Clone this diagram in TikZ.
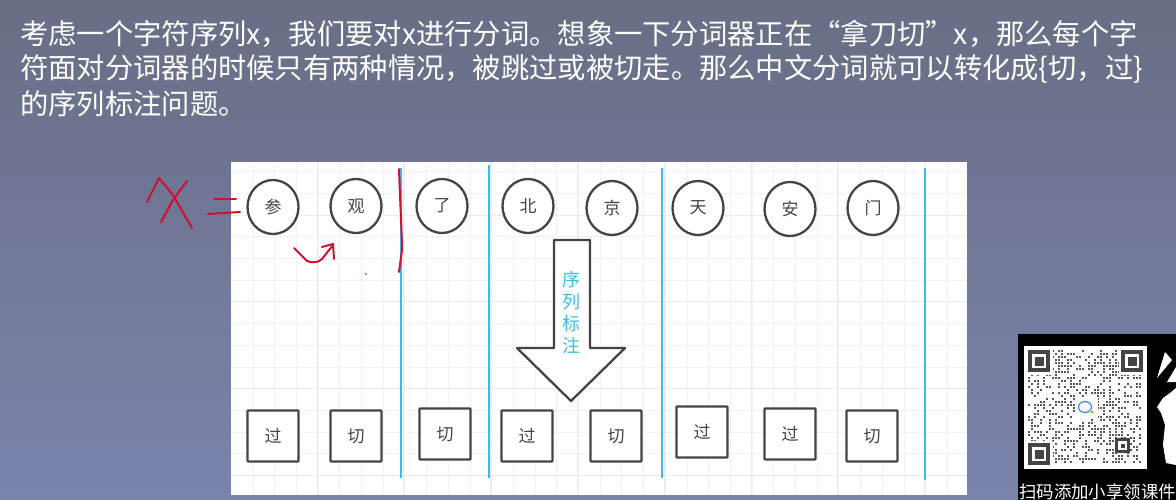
\documentclass[tikz,border=0pt]{standalone}
\usepackage{fontspec}
\usepackage{xcolor}
\setmainfont{Noto Sans CJK SC}
\definecolor{sepblue}{HTML}{38BFE6}
\definecolor{inkred}{HTML}{D01030}
\definecolor{boxgray}{HTML}{444444}
\definecolor{bgtop}{HTML}{686E84}
\definecolor{bgbottom}{HTML}{7B84AD}
\usetikzlibrary{shapes.geometric}
\tikzset{
    headline/.style = {anchor=base west, inner sep=0pt, white, font=\fontsize{28.3}{28}\selectfont},
    treenode/.style = {align=center, inner sep=0pt, text centered, boxgray, font=\fontsize{17}{17}\selectfont},
    char_node/.style = {treenode, ellipse, draw=boxgray, line width=2.3pt, fill=white, minimum width=51pt, minimum height=54pt},
    tag_node/.style = {treenode, rectangle, rounded corners=0.8pt, draw=boxgray, line width=2.3pt, fill=white, minimum width=51pt, minimum height=51pt},
    sepline/.style = {sepblue, line width=2.8pt},
    ink/.style = {inkred, line width=2pt, line cap=round, line join=round},
    finder/.style = {draw=boxgray, line width=4pt, fill=white}
}
\begin{document}
\begin{tikzpicture}[x=1pt,y=-1pt]
    \useasboundingbox (0,0) rectangle (1176,500);
    \shade [top color=bgtop, bottom color=bgbottom] (0,0) rectangle (1176,500);

    % heading
    \node [headline] (line1) at (20,45) {考虑一个字符序列x，我们要对x进行分词。想象一下分词器正在“拿刀切”x，那么每个字};
    \node [headline] (line2) at (20,79) {符面对分词器的时候只有两种情况，被跳过或被切走。那么中文分词就可以转化成\{切，过\}};
    \node [headline] (line3) at (20,115) {的序列标注问题。};

    % sheet with grid
    \fill [white] (231,162) rectangle (967,495);
    \begin{scope}
        \clip (231,162) rectangle (967,495);
        \foreach \gx in {0,...,34}
            \draw [black!5, line width=0.8pt] (252.9+\gx*21.7,162) -- (252.9+\gx*21.7,495);
        \foreach \gy in {0,...,15}
            \draw [black!5, line width=0.8pt] (231,171.6+\gy*21.7) -- (967,171.6+\gy*21.7);
        \foreach \gx in {0,...,8}
            \draw [black!8, line width=1pt] (317+\gx*86.8,162) -- (317+\gx*86.8,495);
        \foreach \gy in {0,...,3}
            \draw [black!8, line width=1pt] (231,215+\gy*86.8) -- (967,215+\gy*86.8);
    \end{scope}

    % separators
    \foreach \sx/\stop/\send in {401/168/478, 489/165/478, 662/168/478, 925/168/480}
        \draw [sepline] (\sx,\stop) -- (\sx,\send);

    % characters and tags
    \foreach \cname/\cx/\cy/\ctext in {can/273/207/参, guan/356/206/观, le/442/206/了, bei/528/206/北, jing/612/208/京, tian/698/208/天, an/790/209/安, men/873/208/门}
        \node [char_node] (\cname) at (\cx,\cy) {\ctext};
    \foreach \tname/\tx/\ty/\ttext in {t1/273/436/过, t2/356/436/切, t3/445/434/切, t4/527/436/过, t5/616/436/切, t6/702/432/过, t7/790/434/过, t8/872/436/切}
        \node [tag_node] (\tname) at (\tx,\ty) {\ttext};

    % big arrow
    \draw [boxgray, line width=2.3pt, fill=white, line join=round]
        (554,240) -- (590,240) -- (590,348) -- (625,348) -- (571,401) -- (517,348) -- (554,348) -- cycle;
    \node [align=center, inner sep=0pt, sepblue, font=\fontsize{18}{22}\selectfont] (seqlabel) at (571,313) {序\\列\\标\\注};

    % red handwriting
    \draw [ink] (147,202) -- (159,178) -- (173,195) -- (192,228);
    \draw [ink] (187,181) -- (173,200) -- (161,222);
    \draw [ink] (214,199) -- (236,199);
    \draw [ink] (208,214) -- (240,212);
    \draw [ink] (294,248) -- (307,261) .. controls (312,263) and (318,263) .. (322,259) -- (333,245);
    \draw [ink] (322,247) -- (333,244) -- (334,259);
    \draw [ink] (399,169) .. controls (400,200) and (402,235) .. (402,250) -- (399,272);
    \fill [inkred!60!black] (366,274) circle (0.8pt);

    % qr card
    \fill [black] (1018,334) rectangle (1176,500);
    \fill [white] (1024,346) rectangle (1147,469);
    \pgfmathsetseed{4711}
    \foreach \qi in {0,...,37}
        \foreach \qj in {0,...,37} {
            \pgfmathrandominteger{\qrbit}{0}{9}
            \ifnum\qrbit<4
                \fill [black!65] (1028+\qi*3,350+\qj*3) rectangle ++(2.4,2.4);
            \fi
        }
    \fill [white] (1026,348) rectangle (1053,375);
    \fill [white] (1119,348) rectangle (1147,375);
    \fill [white] (1026,441) rectangle (1053,469);
    \fill [white] (1075,398) rectangle (1098,419);
    \foreach \fx/\fy in {1028/350, 1121/350, 1028/443} {
        \draw [finder] (\fx+2,\fy+2) rectangle (\fx+20,\fy+20);
        \fill [boxgray] (\fx+6.5,\fy+6.5) rectangle (\fx+15.5,\fy+15.5);
    }
    \draw [finder, line width=3pt] (1116.5,439.5) rectangle (1128.5,451.5);
    \fill [boxgray] (1120.5,443.5) rectangle (1124.5,447.5);
    \draw [sepblue!70!blue, line width=1.1pt] (1085,407) ellipse (6.5pt and 5.5pt);
    \fill [orange!80!green] (1092,412) circle (1.5pt);

    % rabbit
    \fill [white] (1165,352) -- (1157,378) -- (1172,360) -- cycle;
    \fill [white] (1167,382) -- (1176,367) -- (1176,382) -- cycle;
    \fill [white] (1157,407) -- (1163,398) -- (1170,393) -- (1176,388) -- (1176,465) -- (1166,463) -- (1163,445) -- (1165,425) -- (1161,413) -- cycle;

    \node [anchor=west, inner sep=0pt, white, font=\fontsize{17.4}{18}\selectfont] (qrcaption) at (1019,492) {扫码添加小享领课件};
\end{tikzpicture}
\end{document}
